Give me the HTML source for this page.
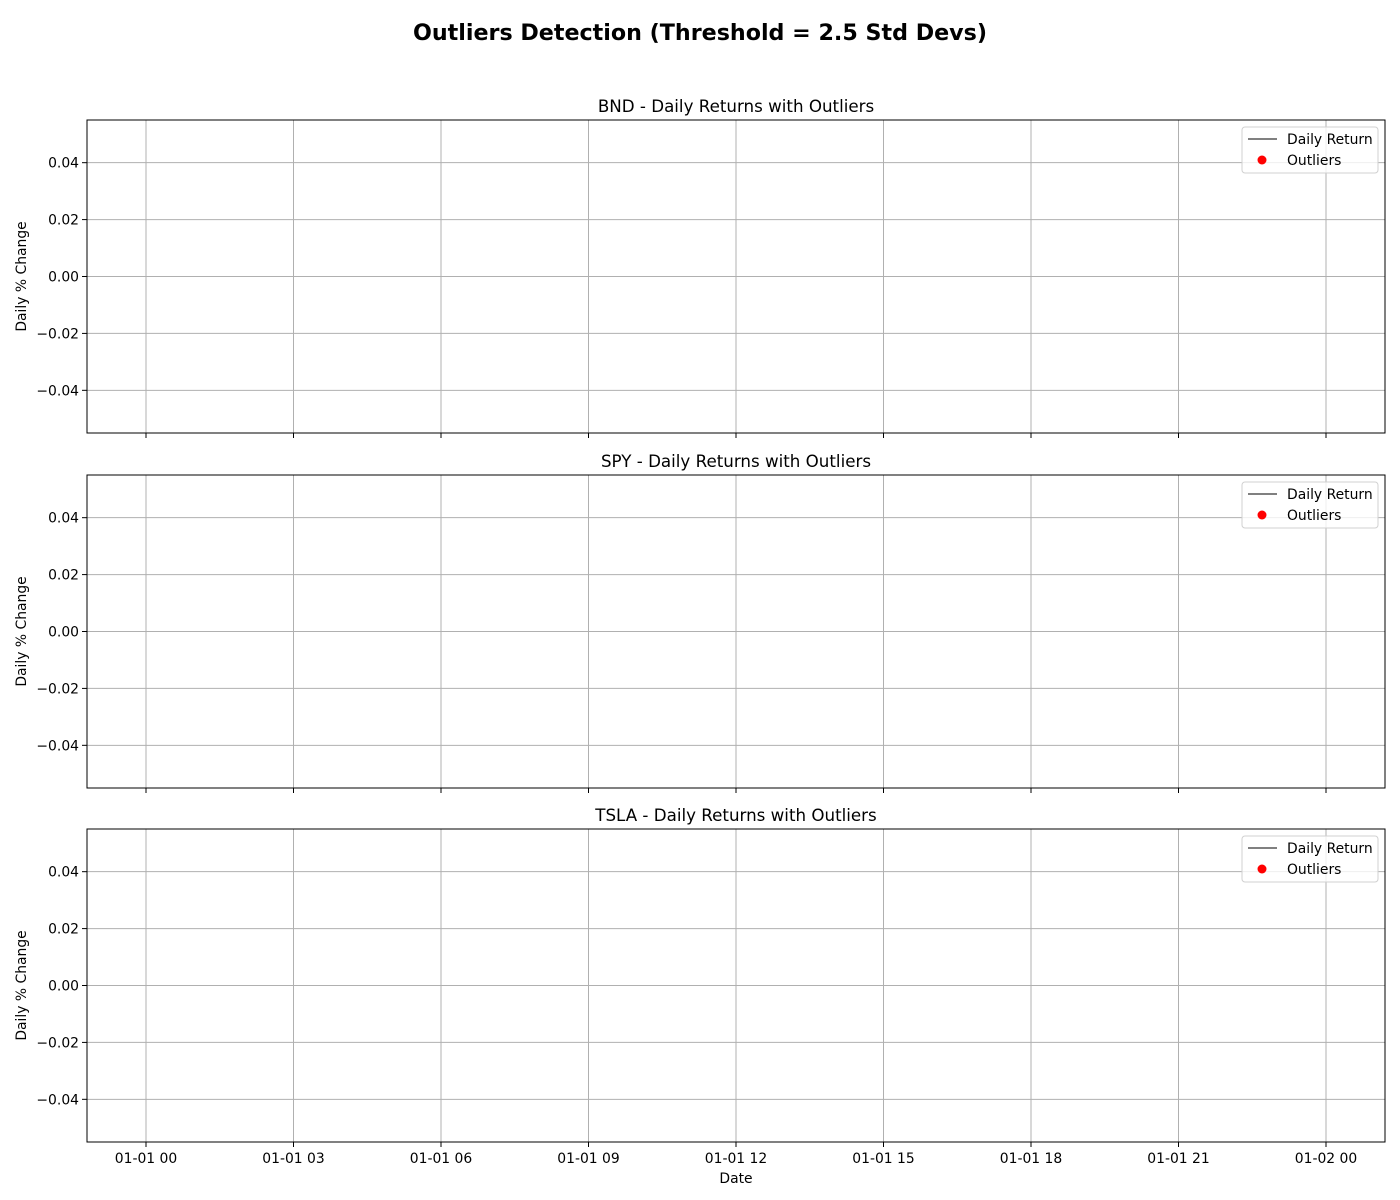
<!DOCTYPE html>
<html><head><meta charset="utf-8">
<style>
body{margin:0;background:#fff;}
svg{display:block;font-family:"DejaVu Sans","Liberation Sans",sans-serif;}
</style></head>
<body>
<svg id="chart" width="1400" height="1200" viewBox="0 0 1400 1200" xmlns="http://www.w3.org/2000/svg">
<rect width="1400" height="1200" fill="#fff"/>
<text x="700" y="40" text-anchor="middle" font-size="22.2" font-weight="bold">Outliers Detection (Threshold = 2.5 Std Devs)</text>
</svg>
<script>
const tickers = ["BND", "SPY", "TSLA"];
const yTickValues = [0.04, 0.02, 0.00, -0.02, -0.04];
const yTickLabels = ["0.04", "0.02", "0.00", "\u22120.02", "\u22120.04"];
const xTickHours = [0, 3, 6, 9, 12, 15, 18, 21, 24];
const xTickLabels = ["01-01 00","01-01 03","01-01 06","01-01 09","01-01 12","01-01 15","01-01 18","01-01 21","01-02 00"];
const returnsX = [[], [], []];
const returnsY = [[], [], []];
const outliersX = [[], [], []];
const outliersY = [[], [], []];

const svg = document.getElementById('chart');
const NS = 'http://www.w3.org/2000/svg';
const L = 87, R = 1385;
const panelTops = [120, 475, 829];
const PH = 313;
const yMin = -0.055, yMax = 0.055;
const xMin = -1.2, xMax = 25.2;
const FS = 13.9;
function xs(h){ return L + (h - xMin) / (xMax - xMin) * (R - L); }
function mk(tag, attrs, parent){
  const e = document.createElementNS(NS, tag);
  for (const k in attrs) e.setAttribute(k, attrs[k]);
  (parent || svg).appendChild(e);
  return e;
}
tickers.forEach((t, i) => {
  const top = panelTops[i], bot = top + PH;
  const ys = v => bot - (v - yMin) / (yMax - yMin) * PH;
  const g = mk('g', {});
  
  
  xTickHours.forEach((h, j) => {
    const x = xs(h);
    const ln = mk('line', {x1:x, x2:x, y1:top, y2:bot, stroke:'#b0b0b0', 'stroke-width':1}, g);
    
    
    const tk = mk('line', {x1:x, x2:x, y1:bot, y2:bot+5, stroke:'#000', 'stroke-width':1}, g);
    
    
    if (i === tickers.length - 1) {
      const tx = mk('text', {x:x, y:bot+21, 'text-anchor':'middle', 'font-size':FS}, g);
      
      
      tx.textContent = xTickLabels[j];
    }
  });
  yTickValues.forEach((v, j) => {
    const y = ys(v);
    const ln = mk('line', {x1:L, x2:R, y1:y, y2:y, stroke:'#b0b0b0', 'stroke-width':1}, g);
    
    
    const tk = mk('line', {x1:L-5, x2:L, y1:y, y2:y, stroke:'#000', 'stroke-width':1}, g);
    
    
    const tx = mk('text', {x:L-8, y:y+5, 'text-anchor':'end', 'font-size':FS}, g);
    
    
    tx.textContent = yTickLabels[j];
  });
  if (returnsX[i].length) {
    const pts = returnsX[i].map((h, k) => xs(h) + ',' + ys(returnsY[i][k])).join(' ');
    const pl = mk('polyline', {points:pts, fill:'none', stroke:'gray', 'stroke-width':1.5}, g);
    
    
  }
  outliersX[i].forEach((h, k) => {
    const c = mk('circle', {cx:xs(h), cy:ys(outliersY[i][k]), r:4.5, fill:'red'}, g);
    
    
  });
  const fr = mk('rect', {x:L, y:top, width:R-L, height:PH, fill:'none', stroke:'#000', 'stroke-width':1}, g);
  
  
  const ti = mk('text', {x:(L+R)/2, y:top-8, 'text-anchor':'middle', 'font-size':16.7}, g);
  
  
  ti.textContent = t + ' - Daily Returns with Outliers';
  const yl = mk('text', {x:26, y:(top+bot)/2, 'text-anchor':'middle', 'font-size':FS, transform:'rotate(-90 26 ' + ((top+bot)/2) + ')'}, g);
  
  
  yl.textContent = 'Daily % Change';
  const lg = mk('g', {}, g);
  
  
  const ly = top + 7;
  mk('rect', {x:1242, y:ly, width:136, height:46, rx:3, fill:'#fff', 'fill-opacity':0.8, stroke:'#d0d0d0', 'stroke-width':1}, lg);
  const ll = mk('line', {x1:1248, x2:1277, y1:ly+12, y2:ly+12, stroke:'gray', 'stroke-width':2}, lg);
  
  
  const t1 = mk('text', {x:1287, y:ly+17, 'font-size':FS}, lg);
  
  
  t1.textContent = 'Daily Return';
  const lc = mk('circle', {cx:1262, cy:ly+33, r:4.5, fill:'red'}, lg);
  
  
  const t2 = mk('text', {x:1287, y:ly+38, 'font-size':FS}, lg);
  
  
  t2.textContent = 'Outliers';
});
const xl = mk('text', {x:(L+R)/2, y:1183, 'text-anchor':'middle', 'font-size':FS});


xl.textContent = 'Date';
</script>
</body></html>
